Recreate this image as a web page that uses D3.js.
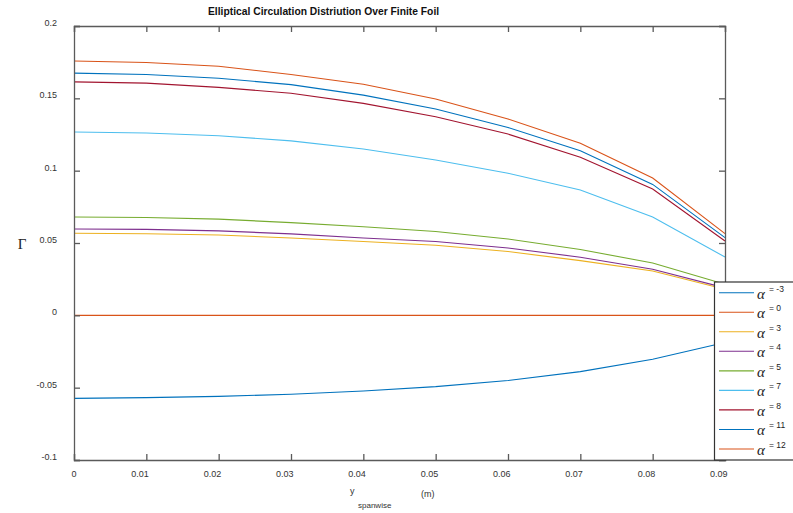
<!DOCTYPE html>
<html>
<head>
<meta charset="utf-8">
<script src="https://cdn.jsdelivr.net/npm/d3@7/dist/d3.min.js"></script>
<style>
  html, body { margin: 0; padding: 0; background: #fff; }
  svg { display: block; font-family: "Liberation Sans", Arial, Helvetica, sans-serif; }
</style>
</head>
<body>
<svg id="chart" width="793" height="513"></svg>
<script>
// ---- data ----
const spanwise = [0, 0.01, 0.02, 0.03, 0.04, 0.05, 0.06, 0.07, 0.08, 0.09];
const alphas = [-3, 0, 3, 4, 5, 7, 8, 11, 12];
const gammaAm3 = [-0.0574, -0.0569, -0.0560, -0.0546, -0.0523, -0.0493, -0.0450, -0.0389, -0.0304, -0.0188];
const gammaA0  = [0, 0, 0, 0, 0, 0, 0, 0, 0, 0];
const gammaA3  = [0.0567, 0.0564, 0.0555, 0.0535, 0.0510, 0.0484, 0.0441, 0.0378, 0.0307, 0.0180];
const gammaA4  = [0.0597, 0.0594, 0.0584, 0.0563, 0.0535, 0.0510, 0.0465, 0.0402, 0.0318, 0.0190];
const gammaA5  = [0.0680, 0.0676, 0.0665, 0.0641, 0.0612, 0.0580, 0.0528, 0.0455, 0.0362, 0.0215];
const gammaA7  = [0.1267, 0.1260, 0.1241, 0.1206, 0.1150, 0.1074, 0.0982, 0.0866, 0.0680, 0.0403];
const gammaA8  = [0.1614, 0.1605, 0.1576, 0.1535, 0.1465, 0.1373, 0.1253, 0.1093, 0.0873, 0.0514];
const gammaA11 = [0.1674, 0.1665, 0.1639, 0.1595, 0.1522, 0.1426, 0.1299, 0.1137, 0.0905, 0.0537];
const gammaA12 = [0.1758, 0.1748, 0.1722, 0.1665, 0.1597, 0.1496, 0.1357, 0.1190, 0.0949, 0.0565];
const xTicks = [0, 0.01, 0.02, 0.03, 0.04, 0.05, 0.06, 0.07, 0.08, 0.09];
const xTickLabels = ["0", "0.01", "0.02", "0.03", "0.04", "0.05", "0.06", "0.07", "0.08", "0.09"];
const yTicks = [-0.1, -0.05, 0, 0.05, 0.1, 0.15, 0.2];
const yTickLabels = ["-0.1", "-0.05", "0", "0.05", "0.1", "0.15", "0.2"];
const seriesColors = ["#0072BD", "#D95319", "#EDB120", "#7E2F8E", "#77AC30", "#4DBEEE", "#A2142F", "#0072BD", "#D95319"];
const titleText = "Elliptical Circulation Distriution Over Finite Foil";

const allSeries = [gammaAm3, gammaA0, gammaA3, gammaA4, gammaA5, gammaA7, gammaA8, gammaA11, gammaA12];

// ---- layout ----
const svg = d3.select("#chart");
const L = 74, R = 725, T = 26, B = 460;
const x = d3.scaleLinear().domain([0, 0.09]).range([L, R]);
const y = d3.scaleLinear().domain([-0.1, 0.2]).range([B, T]);
const axisColor = "#5a5a5a";
const labelColor = "#333";
const serif = "'Liberation Serif', 'Times New Roman', serif";
const sans = "'Liberation Sans', Arial, sans-serif";

// title
svg.append("text").attr("x", 208).attr("y", 15)
  .style("font-family", sans)
  .attr("font-size", 10.3).attr("font-weight", "bold").attr("fill", "#111")
  .text(titleText);

// lines
const line = d3.line().x((d, i) => x(spanwise[i])).y(d => y(d));
svg.append("g").selectAll("path").data(allSeries).join("path")
  .attr("d", d => line(d))
  .attr("fill", "none")
  .attr("stroke", (d, i) => seriesColors[i])
  .attr("stroke-width", 1.1);

// axes
const tickLen = 6;
const xb = svg.append("g").attr("transform", `translate(0,${B})`)
  .call(d3.axisBottom(x).tickValues(xTicks).tickSize(-tickLen).tickPadding(tickLen + 5)
    .tickFormat((d, i) => xTickLabels[i]));
const xt = svg.append("g").attr("transform", `translate(0,${T})`)
  .call(d3.axisTop(x).tickValues(xTicks).tickSize(-tickLen).tickFormat(""));
const yl = svg.append("g").attr("transform", `translate(${L},0)`)
  .call(d3.axisLeft(y).tickValues(yTicks).tickSize(-tickLen).tickPadding(tickLen + 11)
    .tickFormat((d, i) => yTickLabels[i]));
const yr = svg.append("g").attr("transform", `translate(${R},0)`)
  .call(d3.axisRight(y).tickValues(yTicks).tickSize(-tickLen).tickFormat(""));
[xb, xt, yl, yr].forEach(g => {
  g.attr("font-family", null).style("font-family", sans);
  g.select(".domain").attr("stroke", axisColor).attr("stroke-width", 1.3);
  g.selectAll(".tick line").attr("stroke", axisColor).attr("stroke-width", 1.3);
  g.selectAll(".tick text").attr("fill", labelColor).attr("font-size", 9);
});
xb.selectAll(".tick text").attr("text-anchor", "end").attr("dx", 2);
yl.selectAll(".tick text").attr("dy", "-0.05em");

// axis labels
svg.append("text").attr("font-size", 9).attr("fill", labelColor)
  .attr("x", 350).attr("y", 494).text("y");
svg.append("text").attr("x", 358).attr("y", 508).attr("font-size", 8).attr("fill", labelColor).text("spanwise");
svg.append("text").attr("x", 421).attr("y", 497).attr("font-size", 9).attr("fill", labelColor).text("(m)");
svg.append("text").attr("x", 22).attr("y", 249).attr("text-anchor", "middle")
  .style("font-family", serif)
  .attr("font-size", 15).attr("fill", "#222").text("Γ");

// legend
const lg = svg.append("g");
lg.append("rect").attr("x", 714.5).attr("y", 282).attr("width", 90).attr("height", 178)
  .attr("fill", "#fff").attr("stroke", "#333").attr("stroke-width", 1.2);
const rowY = d3.scaleLinear().domain([0, alphas.length - 1]).range([292.7, 449]);
const rows = lg.selectAll("g.row").data(alphas).join("g").attr("class", "row")
  .attr("transform", (d, i) => `translate(0,${rowY(i)})`);
rows.append("line").attr("x1", 719).attr("x2", 754).attr("y1", 0).attr("y2", 0)
  .attr("stroke", (d, i) => seriesColors[i]).attr("stroke-width", 1.1);
rows.append("text").attr("x", 757).attr("y", 6)
  .style("font-family", serif).style("font-style", "italic")
  .attr("font-size", 15).attr("fill", "#222").text("α");
rows.append("text").attr("x", 769).attr("y", -1)
  .attr("font-size", 8.5).attr("fill", "#222").text(d => "= " + d);
</script>
</body>
</html>
